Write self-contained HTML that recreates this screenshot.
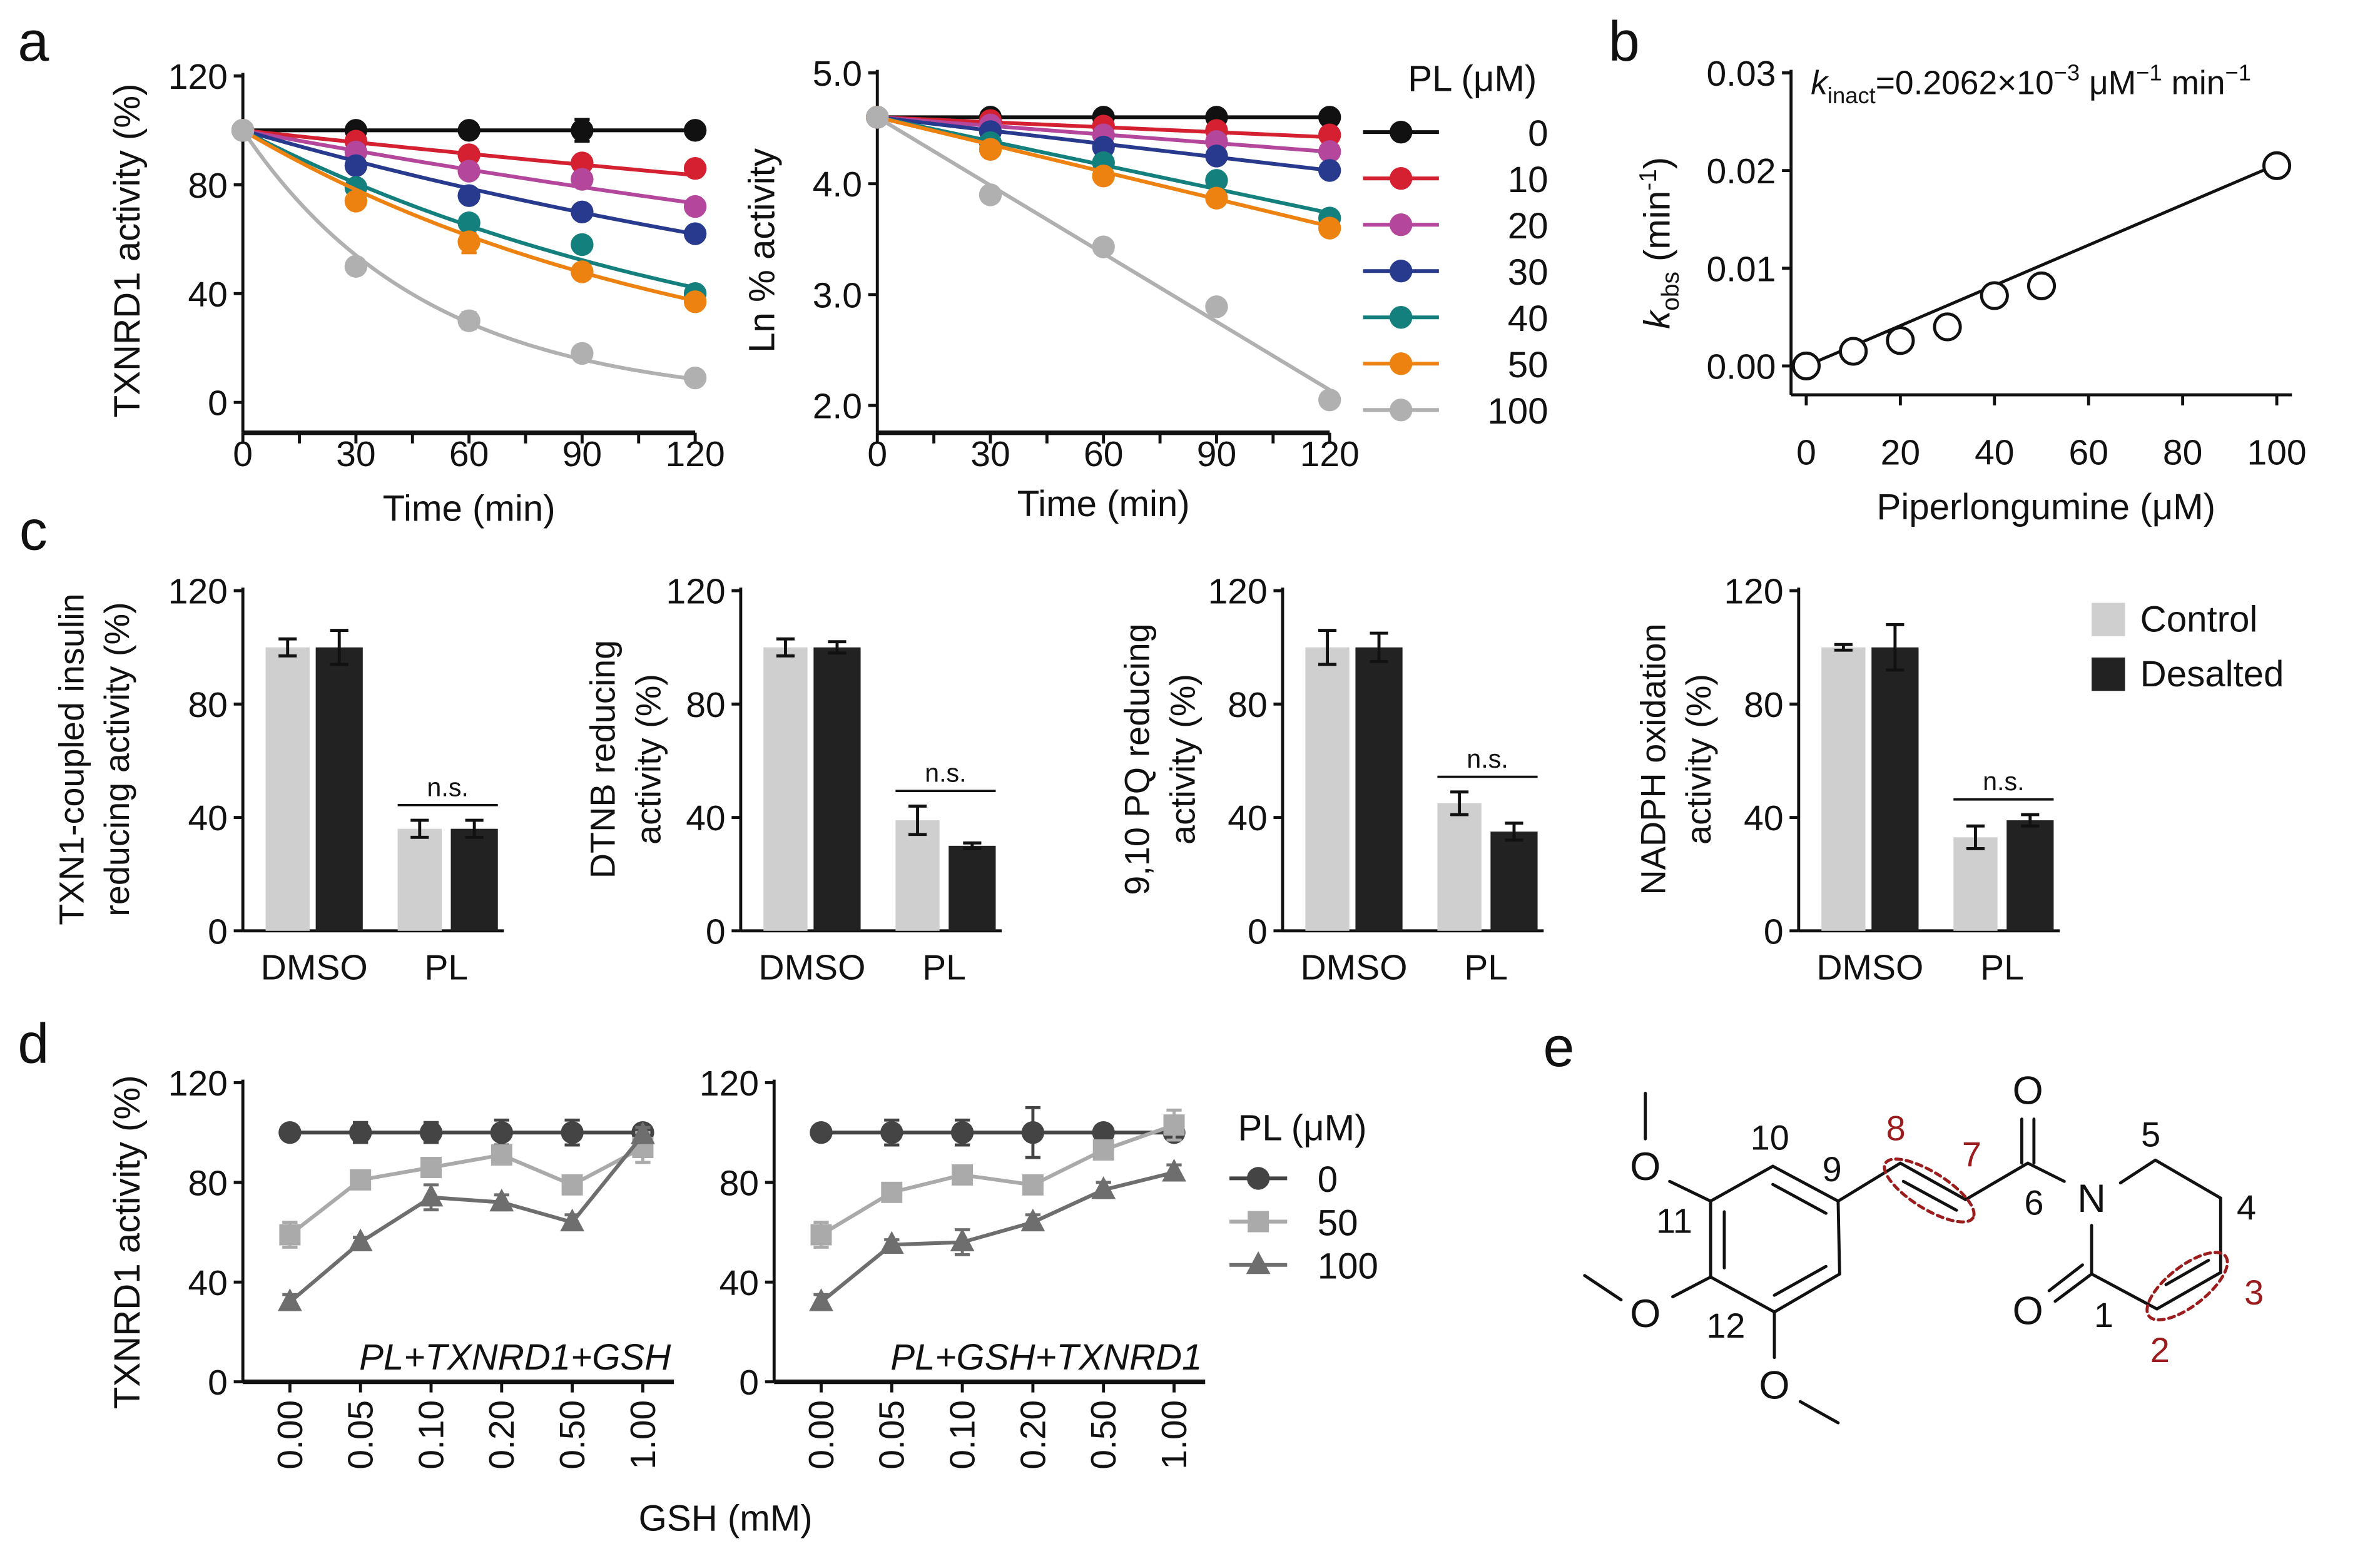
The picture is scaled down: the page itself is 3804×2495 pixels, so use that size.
<!DOCTYPE html>
<html><head><meta charset="utf-8">
<style>
html,body{margin:0;padding:0;background:#fff;}
svg{display:block;}
text{font-family:"Liberation Sans",Arial,sans-serif;fill:#111;}
</style></head>
<body>
<svg id="fig" xmlns="http://www.w3.org/2000/svg" width="3804" height="2495" viewBox="0 0 1568 1028" preserveAspectRatio="none">
<rect x="0" y="0" width="1568" height="1028" fill="#fff"/>
<g id="root"></g>
<g id="panel-e" stroke="#111" stroke-width="2" fill="none" stroke-linecap="round">
<line x1="1084" y1="720" x2="1084" y2="750"/>
<line x1="1100" y1="778" x2="1127" y2="791"/>
<line x1="1127" y1="791" x2="1168" y2="768"/>
<line x1="1168" y1="768" x2="1211" y2="791"/>
<line x1="1168" y1="780" x2="1203" y2="799"/>
<line x1="1211" y1="791" x2="1212" y2="839"/>
<line x1="1212" y1="839" x2="1169" y2="864"/>
<line x1="1203" y1="834" x2="1169" y2="853"/>
<line x1="1169" y1="864" x2="1127" y2="841"/>
<line x1="1127" y1="841" x2="1127" y2="791"/>
<line x1="1136" y1="835" x2="1136" y2="798"/>
<line x1="1102" y1="854" x2="1127" y2="841"/>
<line x1="1044" y1="840" x2="1068" y2="856"/>
<line x1="1169" y1="864" x2="1169" y2="894"/>
<line x1="1186" y1="923" x2="1211" y2="937"/>
<line x1="1211" y1="791" x2="1252" y2="766"/>
<line x1="1252" y1="766" x2="1295" y2="790"/>
<line x1="1254" y1="778" x2="1289" y2="797"/>
<line x1="1295" y1="790" x2="1336" y2="766"/>
<line x1="1332" y1="766" x2="1332" y2="737"/>
<line x1="1340" y1="766" x2="1340" y2="737"/>
<line x1="1336" y1="766" x2="1360" y2="778"/>
<line x1="1397" y1="779" x2="1420" y2="764"/>
<line x1="1420" y1="764" x2="1463" y2="789"/>
<line x1="1463" y1="789" x2="1463" y2="838"/>
<line x1="1463" y1="838" x2="1421" y2="862"/>
<line x1="1455" y1="830" x2="1427" y2="846"/>
<line x1="1421" y1="862" x2="1378" y2="839"/>
<line x1="1378" y1="839" x2="1378" y2="807"/>
<line x1="1378" y1="839" x2="1354" y2="857"/>
<line x1="1372" y1="833" x2="1350" y2="850"/>
<ellipse cx="1271" cy="784" rx="34" ry="12" transform="rotate(32 1271 784)" stroke="#9b1c1c" stroke-dasharray="4 3"/>
<ellipse cx="1441" cy="847" rx="32" ry="13" transform="rotate(-38 1441 847)" stroke="#9b1c1c" stroke-dasharray="4 3"/>
</g>
<g id="panel-e-labels" font-size="26" text-anchor="middle">
<text x="1084" y="777">O</text>
<text x="1084" y="874">O</text>
<text x="1169" y="921">O</text>
<text x="1336" y="727">O</text>
<text x="1336" y="872">O</text>
<text x="1378" y="798">N</text>
<text x="1166" y="757" font-size="23">10</text>
<text x="1207" y="778" font-size="23">9</text>
<text x="1103" y="812" font-size="23">11</text>
<text x="1137" y="881" font-size="23">12</text>
<text x="1249" y="751" font-size="23" style="fill:#9b1c1c">8</text>
<text x="1299" y="768" font-size="23" style="fill:#9b1c1c">7</text>
<text x="1340" y="800" font-size="23">6</text>
<text x="1417" y="755" font-size="23">5</text>
<text x="1480" y="803" font-size="23">4</text>
<text x="1485" y="859" font-size="23" style="fill:#9b1c1c">3</text>
<text x="1423" y="897" font-size="23" style="fill:#9b1c1c">2</text>
<text x="1386" y="874" font-size="23">1</text>
</g>
</svg>
<script>
const timePts = [0, 30, 60, 90, 120];
const plConc = [0, 10, 20, 30, 40, 50, 100];
const plColors = ['#111111', '#d42030', '#b4479c', '#283a8e', '#14807e', '#ee8210', '#b0b0b0'];
const actPL0 = [100, 100, 100, 100, 100];
const actPL10 = [100, 96, 91, 88, 86];
const actPL20 = [100, 92, 85, 82, 72];
const actPL30 = [100, 87, 76, 70, 62];
const actPL40 = [100, 79, 66, 58, 40];
const actPL50 = [100, 74, 59, 48, 37];
const actPL100 = [100, 50, 30, 18, 9];
const lnPL0 = [4.6, 4.6, 4.6, 4.6, 4.6];
const lnPL10 = [4.6, 4.57, 4.52, 4.48, 4.44];
const lnPL20 = [4.6, 4.53, 4.44, 4.38, 4.29];
const lnPL30 = [4.6, 4.47, 4.33, 4.25, 4.12];
const lnPL40 = [4.6, 4.37, 4.19, 4.03, 3.69];
const lnPL50 = [4.6, 4.31, 4.07, 3.87, 3.6];
const lnPL100 = [4.6, 3.9, 3.43, 2.89, 2.05];
const kobs = [0, 0.0015, 0.0026, 0.004, 0.0072, 0.0082, 0.0205];
const kinact = 0.0002062;
const barCats = ['DMSO', 'PL'];
const barTitles = [['TXN1-coupled insulin', 'reducing activity (%)'], ['DTNB reducing', 'activity (%)'], ['9,10 PQ reducing', 'activity (%)'], ['NADPH oxidation', 'activity (%)']];
const ctrlVals = [[100, 36], [100, 39], [100, 45], [100, 33]];
const ctrlErr = [[3, 3], [3, 5], [6, 4], [1, 4]];
const desVals = [[100, 36], [100, 30], [100, 35], [100, 39]];
const desErr = [[6, 3], [2, 1], [5, 3], [8, 2]];
const gshLabels = ['0.00', '0.05', '0.10', '0.20', '0.50', '1.00'];
const dA0 = [100, 100, 100, 100, 100, 100];
const dA50 = [59, 81, 86, 91, 79, 94];
const dA100 = [32, 56, 74, 72, 64, 99];
const dB0 = [100, 100, 100, 100, 100, 100];
const dB50 = [59, 76, 83, 79, 93, 103];
const dB100 = [32, 55, 56, 64, 77, 84];
const dErrA0 = [2, 4, 4, 5, 5, 2];
const dErrB0 = [2, 5, 5, 10, 2, 2];
const dErr50 = [5, 3, 3, 3, 3, 6];
const dErr100 = [3, 2, 5, 3, 3, 3];

const TS = 23.5; // tick font size
const MR = 7.5;  // marker radius
const NS = 'http://www.w3.org/2000/svg';
const root = document.getElementById('root');
function mk(tag, attrs, parent) {
  const e = document.createElementNS(NS, tag);
  for (const k in attrs) e.setAttribute(k, attrs[k]);
  (parent || root).appendChild(e);
  return e;
}
function txt(s, x, y, size, anchor, parent, extra) {
  const t = mk('text', Object.assign({x: x, y: y, 'font-size': size, 'text-anchor': anchor || 'middle'}, extra || {}), parent);
  t.textContent = s;
  return t;
}
function lin(d0, d1, r0, r1) { return v => r0 + (v - d0) * (r1 - r0) / (d1 - d0); }
function yAxis(g, x, ys, vals, labels, top, bot, size) {
  const l = mk('line', {x1: x, y1: top, x2: x, y2: bot, stroke: '#111', 'stroke-width': 2}, g);
  
  
  vals.forEach((v, i) => {
    const tk = mk('line', {x1: x - 6, y1: ys(v), x2: x, y2: ys(v), stroke: '#111', 'stroke-width': 2}, g);
    
    
    const t = txt(labels[i], x - 10, ys(v) + size * 0.36, size, 'end', g);
    
    
  });
}
function errBar(g, x, yc, ylo, yhi, color, w) {
  const e = mk('path', {d: `M${x},${ylo}V${yhi}M${x - w},${ylo}H${x + w}M${x - w},${yhi}H${x + w}`, stroke: color, 'stroke-width': 2, fill: 'none'}, g);
  
  
}

[['a', 22, 40], ['b', 1070, 40], ['c', 22, 362], ['d', 22, 700], ['e', 1027, 702]].forEach(p => {
  const t = txt(p[0], p[1], p[2], 37, 'middle');
  
  
});

const actSeries = [actPL0, actPL10, actPL20, actPL30, actPL40, actPL50, actPL100];
const lnSeries = [lnPL0, lnPL10, lnPL20, lnPL30, lnPL40, lnPL50, lnPL100];
(function () {
  const g = mk('g', {});
  
  
  const xs = lin(0, 120, 160, 458), ys = lin(0, 120, 265, 50);
  yAxis(g, 160, ys, [0, 40, 80, 120], ['0', '40', '80', '120'], 48, 285, TS);
  const ax = mk('line', {x1: 160, y1: 285, x2: 458, y2: 285, stroke: '#111', 'stroke-width': 3}, g);
  
  
  for (let t = 0; t <= 120; t += 15) {
    const tk = mk('line', {x1: xs(t), y1: 285, x2: xs(t), y2: 292, stroke: '#111', 'stroke-width': 2}, g);
    
    
  }
  timePts.forEach(t => {
    const l = txt(String(t), xs(t), 307, TS, 'middle', g);
    
    
  });
  const xt = txt('Time (min)', 309, 343, 24, 'middle', g);
  
  
  const yt = txt('TXNRD1 activity (%)', 0, 0, 24, 'middle', g, {transform: 'translate(92,165) rotate(-90)'});
  
  
  actSeries.forEach((s, i) => {
    let d = '';
    for (let t = 0; t <= 120; t += 2) d += (t ? 'L' : 'M') + xs(t) + ',' + ys(100 * Math.exp(-kobs[i] * t));
    const p = mk('path', {d: d, stroke: plColors[i], 'stroke-width': 2.5, fill: 'none'}, g);
    
    
    s.forEach((v, j) => {
      const c = mk('circle', {cx: xs(timePts[j]), cy: ys(v), r: MR, fill: plColors[i]}, g);
      
      
    });
  });
  errBar(g, xs(90), 0, ys(104), ys(96), '#111', 5);
  errBar(g, xs(60), 0, ys(33), ys(27), '#b0b0b0', 5);
  errBar(g, xs(60), 0, ys(62), ys(55), '#ee8210', 5);
})();

(function () {
  const g = mk('g', {});
  
  
  const xs = lin(0, 120, 578, 876), ys = lin(2, 5, 267, 48);
  yAxis(g, 578, ys, [2, 3, 4, 5], ['2.0', '3.0', '4.0', '5.0'], 46, 285, TS);
  const ax = mk('line', {x1: 578, y1: 285, x2: 876, y2: 285, stroke: '#111', 'stroke-width': 3}, g);
  
  
  for (let t = 0; t <= 120; t += 15) {
    const tk = mk('line', {x1: xs(t), y1: 285, x2: xs(t), y2: 292, stroke: '#111', 'stroke-width': 2}, g);
    
    
  }
  timePts.forEach(t => {
    const l = txt(String(t), xs(t), 307, TS, 'middle', g);
    
    
  });
  const xt = txt('Time (min)', 727, 340, 24, 'middle', g);
  
  
  const yt = txt('Ln % activity', 0, 0, 24, 'middle', g, {transform: 'translate(510,165) rotate(-90)'});
  
  
  lnSeries.forEach((s, i) => {
    const p = mk('line', {x1: xs(0), y1: ys(4.6), x2: xs(120), y2: ys(4.6 - kobs[i] * 120), stroke: plColors[i], 'stroke-width': 2.5}, g);
    
    
    s.forEach((v, j) => {
      const c = mk('circle', {cx: xs(timePts[j]), cy: ys(v), r: MR, fill: plColors[i]}, g);
      
      
    });
  });
  const lt = txt('PL (μM)', 970, 60, 24, 'middle', g);
  
  
  plConc.forEach((c, i) => {
    const y = 87 + i * 30.5;
    const lg = mk('g', {}, g);
    
    
    mk('line', {x1: 898, y1: y, x2: 948, y2: y, stroke: plColors[i], 'stroke-width': 2.5}, lg);
    mk('circle', {cx: 923, cy: y, r: MR, fill: plColors[i]}, lg);
    txt(String(c), 1020, y + 9, 24, 'end', lg);
  });
})();

(function () {
  const g = mk('g', {});
  
  
  const xs = lin(0, 100, 1190, 1500), ys = lin(0, 0.03, 241, 48);
  yAxis(g, 1180, ys, [0, 0.01, 0.02, 0.03], ['0.00', '0.01', '0.02', '0.03'], 46, 260, TS);
  const ax = mk('line', {x1: 1180, y1: 260, x2: 1510, y2: 260, stroke: '#111', 'stroke-width': 2}, g);
  
  
  [0, 20, 40, 60, 80, 100].forEach(t => {
    const tk = mk('line', {x1: xs(t), y1: 260, x2: xs(t), y2: 267, stroke: '#111', 'stroke-width': 2}, g);
    
    
    const l = txt(String(t), xs(t), 306, TS, 'middle', g);
    
    
  });
  const xt = txt('Piperlongumine (μM)', 1348, 342, 24, 'middle', g);
  
  
  const yt = mk('text', {'font-size': 24, 'text-anchor': 'middle', transform: 'translate(1100,160) rotate(-90)'}, g);
  yt.innerHTML = '<tspan font-style="italic">k</tspan><tspan font-size="16" dy="6">obs</tspan><tspan dy="-6"> (min</tspan><tspan font-size="16" dy="-9">-1</tspan><tspan dy="9">)</tspan>';
  
  
  const fl = mk('line', {x1: xs(0), y1: ys(0), x2: xs(100), y2: ys(kinact * 100), stroke: '#111', 'stroke-width': 2}, g);
  
  
  kobs.forEach((v, i) => {
    const c = mk('circle', {cx: xs(plConc[i]), cy: ys(v), r: 8.5, fill: '#fff', stroke: '#111', 'stroke-width': 2}, g);
    
    
  });
  const an = mk('text', {x: 1193, y: 62, 'font-size': 22}, g);
  an.innerHTML = '<tspan font-style="italic">k</tspan><tspan font-size="15" dy="6">inact</tspan><tspan dy="-6">=0.2062×10</tspan><tspan font-size="15" dy="-9">−3</tspan><tspan dy="9"> μM</tspan><tspan font-size="15" dy="-9">−1</tspan><tspan dy="9"> min</tspan><tspan font-size="15" dy="-9">−1</tspan>';
  
  
})();

const cX0 = [160, 488, 845, 1185];
const titleX = [55, 405, 757, 1097];
cX0.forEach((x0, k) => {
  const g = mk('g', {});
  
  
  const ys = lin(0, 120, 613, 389);
  yAxis(g, x0, ys, [0, 40, 80, 120], ['0', '40', '80', '120'], 387, 613, TS);
  const ax = mk('line', {x1: x0, y1: 613, x2: x0 + 172, y2: 613, stroke: '#111', 'stroke-width': 2}, g);
  
  
  const offs = [[15, 48], [102, 137]];
  barCats.forEach((cat, ci) => {
    const xc = x0 + offs[ci][0], xd = x0 + offs[ci][1];
    const b1 = mk('rect', {x: xc, y: ys(ctrlVals[k][ci]), width: 29, height: 613 - ys(ctrlVals[k][ci]), fill: '#cfcfcf'}, g);
    
    
    const b2 = mk('rect', {x: xd, y: ys(desVals[k][ci]), width: 31, height: 613 - ys(desVals[k][ci]), fill: '#222'}, g);
    
    
    errBar(g, xc + 14.5, 0, ys(ctrlVals[k][ci] - ctrlErr[k][ci]), ys(ctrlVals[k][ci] + ctrlErr[k][ci]), '#111', 6);
    errBar(g, xd + 15.5, 0, ys(desVals[k][ci] - desErr[k][ci]), ys(desVals[k][ci] + desErr[k][ci]), '#111', 6);
    const l = txt(cat, x0 + (ci ? 134 : 47), 645, TS, 'middle', g);
    
    
  });
  const top = Math.min(ys(ctrlVals[k][1] + ctrlErr[k][1]), ys(desVals[k][1] + desErr[k][1])) - 10;
  const br = mk('line', {x1: x0 + 102, y1: top, x2: x0 + 168, y2: top, stroke: '#111', 'stroke-width': 1.5}, g);
  
  
  const ns = txt('n.s.', x0 + 135, top - 6, 17, 'middle', g);
  
  
  barTitles[k].forEach((line, li) => {
    const t = txt(line, 0, 0, 23, 'middle', g, {transform: `translate(${titleX[k] + li * 30},500) rotate(-90)`});
    
    
  });
});
[['Control', '#cfcfcf', 408], ['Desalted', '#222', 444]].forEach(e => {
  const lg = mk('g', {});
  
  
  mk('rect', {x: 1378, y: e[2] - 11, width: 22, height: 22, fill: e[1]}, lg);
  txt(e[0], 1410, e[2] + 8, 24, 'start', lg);
});

const dSets = [[dA0, dA50, dA100, dErrA0, 160, 'PL+TXNRD1+GSH'], [dB0, dB50, dB100, dErrB0, 510, 'PL+GSH+TXNRD1']];
const dColors = ['#444', '#aaa', '#6e6e6e'];
dSets.forEach((set, k) => {
  const x0 = set[4];
  const g = mk('g', {});
  
  
  const ys = lin(0, 120, 910, 713);
  const xs = i => x0 + 31 + i * 46.5;
  yAxis(g, x0, ys, [0, 40, 80, 120], ['0', '40', '80', '120'], 711, 910, TS);
  const ax = mk('line', {x1: x0, y1: 910, x2: x0 + 284, y2: 910, stroke: '#111', 'stroke-width': 3}, g);
  
  
  gshLabels.forEach((lab, i) => {
    const tk = mk('line', {x1: xs(i), y1: 910, x2: xs(i), y2: 917, stroke: '#111', 'stroke-width': 2}, g);
    
    
    const t = txt(lab, 0, 0, TS, 'end', g, {transform: `translate(${xs(i) + 8},922) rotate(-90)`});
    
    
  });
  const it = txt(set[5], x0 + 282, 902, 24, 'end', g, {'font-style': 'italic'});
  
  
  [set[0], set[1], set[2]].forEach((s, si) => {
    const errs = si === 0 ? set[3] : (si === 1 ? dErr50 : dErr100);
    let d = '';
    s.forEach((v, i) => { d += (i ? 'L' : 'M') + xs(i) + ',' + ys(v); });
    const p = mk('path', {d: d, stroke: dColors[si], 'stroke-width': 2.5, fill: 'none'}, g);
    
    
    s.forEach((v, i) => {
      errBar(g, xs(i), 0, ys(v - errs[i]), ys(v + errs[i]), dColors[si], 5);
      let m;
      if (si === 0) m = mk('circle', {cx: xs(i), cy: ys(v), r: MR, fill: dColors[si]}, g);
      else if (si === 1) m = mk('rect', {x: xs(i) - 7, y: ys(v) - 7, width: 14, height: 14, fill: dColors[si]}, g);
      else m = mk('path', {d: `M${xs(i)},${ys(v) - 9}L${xs(i) + 8},${ys(v) + 6}L${xs(i) - 8},${ys(v) + 6}Z`, fill: dColors[si]}, g);
      
      
    });
  });
});
(function () {
  const yt = txt('TXNRD1 activity (%)', 0, 0, 24, 'middle', root, {transform: 'translate(92,818) rotate(-90)'});
  
  
  const xt = txt('GSH (mM)', 478, 1008, 24, 'middle');
  
  
  const lt = txt('PL (μM)', 858, 751, 24, 'middle');
  
  
  ['0', '50', '100'].forEach((c, i) => {
    const y = 776 + i * 28.5;
    const lg = mk('g', {});
    
    
    mk('line', {x1: 810, y1: y, x2: 848, y2: y, stroke: dColors[i], 'stroke-width': 2.5}, lg);
    if (i === 0) mk('circle', {cx: 829, cy: y, r: MR, fill: dColors[i]}, lg);
    else if (i === 1) mk('rect', {x: 822, y: y - 7, width: 14, height: 14, fill: dColors[i]}, lg);
    else mk('path', {d: `M829,${y - 9}L837,${y + 6}L821,${y + 6}Z`, fill: dColors[i]}, lg);
    txt(c, 868, y + 9, 24, 'start', lg);
  });
})();
</script>
</body></html>
